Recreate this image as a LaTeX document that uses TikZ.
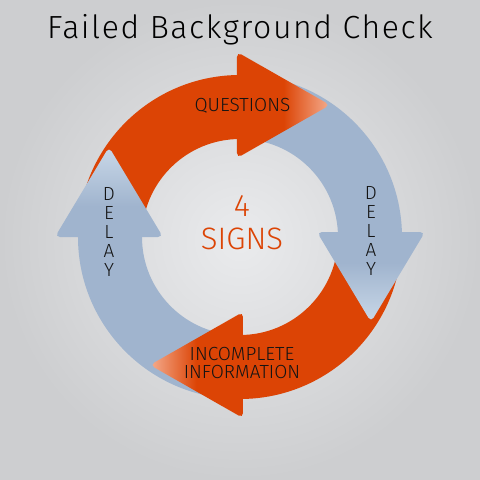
\documentclass[tikz,border=0pt]{standalone}
\usepackage{fontspec}
\setmainfont{Fira Sans}
\newfontfamily\lightfont{Fira Sans Light}
\usepackage{xcolor}
\usetikzlibrary{calc, positioning}

\definecolor{orng}{HTML}{DC4405}
\definecolor{orngl}{HTML}{F4AC8E}
\definecolor{blu}{HTML}{A0B4CE}
\definecolor{blul}{HTML}{C9D8E8}
\definecolor{bgin}{HTML}{EAEBED}
\definecolor{bgout}{HTML}{CDCED0}

\pgfdeclarehorizontalshading{orngtip}{100bp}{color(0bp)=(orng); color(25bp)=(orng); color(50bp)=(orng); color(75bp)=(orngl); color(100bp)=(orngl)}
\pgfdeclarehorizontalshading{blutip}{100bp}{color(0bp)=(blu); color(25bp)=(blu); color(42bp)=(blu); color(75bp)=(blul); color(100bp)=(blul)}

\begin{document}
\begin{tikzpicture}[x=1pt, y=1pt,
    lbl/.style={font=\lightfont\fontsize{19}{19}\selectfont, text=black!92, align=center, inner sep=0pt},
    head/.style={rounded corners=5pt}]
                        % background
                        \shade[inner color=bgin, outer color=bgout] (-240,-240) rectangle (240,240);
                        \coordinate (c) at (0,3);
                        % ring parts
                        \fill[orng] ($(c)+(180:162pt)$) arc (180:90:162pt) -- ($(c)+(90:98pt)$) arc (90:180:98pt) -- cycle;
                        \fill[blu] ($(c)+(90:162pt)$) arc (90:0:162pt) -- ($(c)+(0:98pt)$) arc (0:90:98pt) -- cycle;
                        \fill[orng] ($(c)+(0:162pt)$) arc (0:-90:162pt) -- ($(c)+(-90:98pt)$) arc (-90:0:98pt) -- cycle;
                        \fill[blu] ($(c)+(-90:162pt)$) arc (-90:-180:162pt) -- ($(c)+(-180:98pt)$) arc (-180:-90:98pt) -- cycle;
                        % arrow heads
                        \shade[head, shading=orngtip, shading angle=0] (-3,188) -- (90,135) -- (-3,82) -- cycle;
                        \shade[head, shading=blutip, shading angle=-90] (77,8) -- (185,8) -- (131,-82) -- cycle;
                        \shade[head, shading=orngtip, shading angle=180] (3,-72) -- (3,-178) -- (-90,-125) -- cycle;
                        \shade[head, shading=blutip, shading angle=90] (-185,3) -- (-77,3) -- (-131,93) -- cycle;
                        % texts
                        \node[font=\lightfont\fontsize{32}{36}\selectfont\addfontfeature{LetterSpace=5}] (title) at (0,210) {Failed Background Check};
                        \node[lbl] (questions) at (2.5,134.5) {QUESTIONS};
                        \node[lbl] (delayr) at (131,9) {D\\E\\L\\A\\Y};
                        \node[lbl] (delayl) at (-131,8) {D\\E\\L\\A\\Y};
                        \node[lbl] (incomplete) at (2,-113.5) {INCOMPLETE};
                        \node[lbl, below=4.5pt of incomplete] (information) {INFORMATION};
                        \node[lbl, font=\lightfont\fontsize{31}{33}\selectfont, text=orng] (signs) at (2,17) {4\\SIGNS};
                    \end{tikzpicture}
\end{document}
